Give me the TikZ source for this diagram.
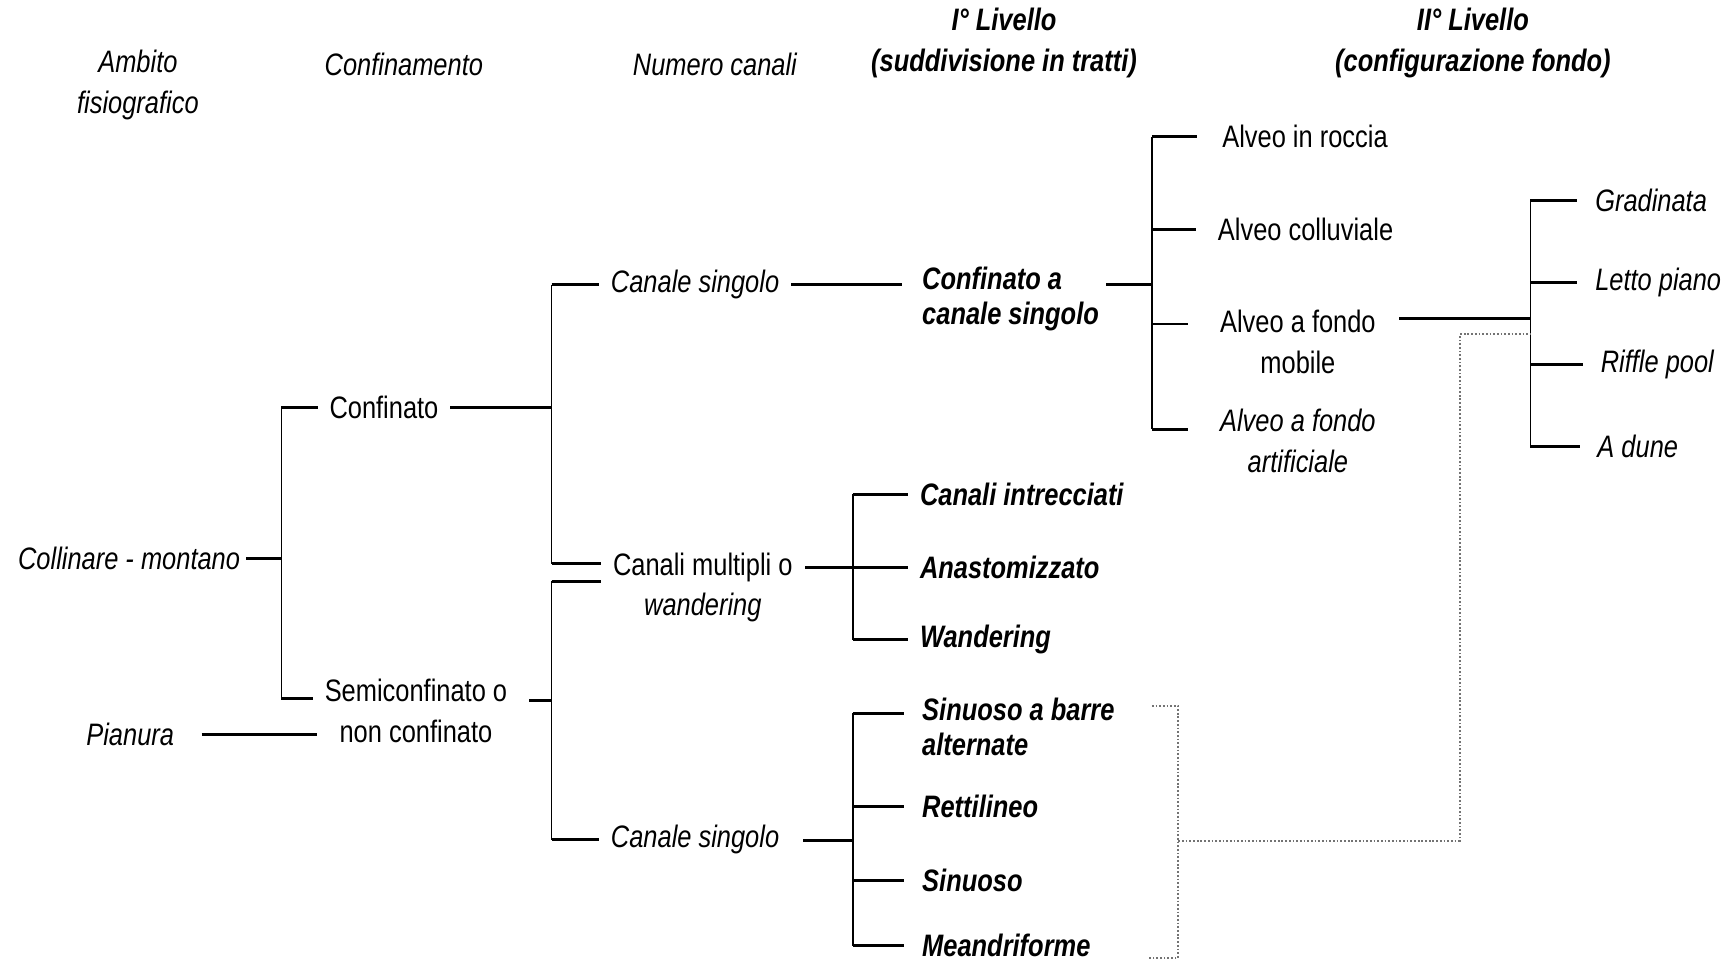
\documentclass[tikz,border=0pt]{standalone}
\usepackage{fontspec}
\setmainfont{Liberation Sans}[FakeStretch=0.82]

\tikzset{
  lbl/.style={inner sep=2pt, font=\fontsize{16}{21}\selectfont},
  itl/.style={lbl, font=\fontsize{16}{21}\selectfont\itshape},
  bit/.style={lbl, font=\fontsize{16}{18}\selectfont\bfseries\itshape},
  head/.style={lbl, align=center, font=\fontsize{16}{21}\selectfont\itshape},
  bhead/.style={font=\fontsize{16}{21}\selectfont\bfseries\itshape},
  tick/.style={line width=1.5pt, shorten >=4pt},
  stem/.style={line width=0.8pt},
  link/.style={black!55, densely dotted, line width=0.9pt}
}

\begin{document}
\begin{tikzpicture}[x=0.02cm, y=-0.02cm]
\useasboundingbox (0,0) rectangle (1568,874);

% Headers
\node[head] (hAmb) at (125,77) {Ambito\\fisiografico};
\node[head] (hConf) at (366,58) {Confinamento};
\node[head] (hNum) at (648,58) {Numero canali};
\node[head, bhead] (hLiv1) at (910,39) {I° Livello\\(suddivisione in tratti)};
\node[head, bhead] (hLiv2) at (1335,39) {II° Livello\\(configurazione fondo)};

% Ambito fisiografico
\node[itl] (cm) at (117,506) {Collinare - montano};
\node[itl] (pia) at (118,666) {Pianura};

% Confinamento
\node[lbl] (conf) at (348,369) {Confinato};
\node[lbl, align=center, anchor=north] (semi) at (377,612) {Semiconfinato o\\non confinato};
\coordinate (semiL) at ([yshift=-12pt]semi.north west);

\coordinate (b1) at (255,506);
\draw[tick, shorten >=1pt] (b1) -- (cm.east);
\draw[stem] (b1 |- conf.west) -- (b1 |- semiL);
\draw[tick] (b1 |- conf.west) -- (conf.west);
\draw[tick] (b1 |- semiL) -- (semiL);
\draw[tick, shorten <=12pt, shorten >=2pt] (pia.east) -- (pia.east -| semi.west);

% Numero canali
\node[itl] (cs1) at (630,258) {Canale singolo};
\node[lbl, align=center, anchor=north] (cmw) at (637,497) {Canali multipli o\\\textit{wandering}};
\node[itl] (cs2) at (630,761) {Canale singolo};
\coordinate (cmwA) at ([yshift=-8pt]cmw.north west);
\coordinate (cmwB) at ([yshift=-17pt]cmw.north west);

\coordinate (b2a) at (500,369);
\draw[tick] (b2a) -- (b2a -| conf.east);
\draw[stem] (b2a |- cs1.west) -- (b2a |- cmwA);
\draw[tick] (b2a |- cs1.west) -- (cs1.west);
\draw[tick] (b2a |- cmwA) -- (cmwA);

\coordinate (b2b) at (500,635);
\draw[tick, shorten >=9pt] (b2b) -- (b2b -| semi.east);
\draw[stem] (b2b |- cmwB) -- (b2b |- cs2.west);
\draw[tick] (b2b |- cmwB) -- (cmwB);
\draw[tick] (b2b |- cs2.west) -- (cs2.west);

% I livello - canali multipli
\node[bit, anchor=west] (ci) at (830,448) {Canali intrecciati};
\node[bit, anchor=west] (an) at (830,514) {Anastomizzato};
\node[bit, anchor=west] (wa) at (830,580) {Wandering};

\coordinate (b3a) at (773,514);
\draw[tick] (b3a) -- (b3a -| cmw.east);
\draw[stem] (b3a |- ci.west) -- (b3a |- wa.west);
\draw[tick] (b3a |- ci.west) -- (ci.west);
\draw[tick] (b3a |- an.west) -- (an.west);
\draw[tick] (b3a |- wa.west) -- (wa.west);

% I livello - canale singolo
\node[bit, align=left, anchor=north west] (sba) at (832,629) {Sinuoso a barre\\alternate};
\node[bit, anchor=west] (re) at (832,731) {Rettilineo};
\node[bit, anchor=west] (si) at (832,798) {Sinuoso};
\node[bit, anchor=west] (me) at (832,857) {Meandriforme};
\coordinate (sbaL) at ([yshift=-10pt]sba.north west);

\coordinate (b3b) at (773,762);
\draw[tick, shorten >=10pt] (b3b) -- (b3b -| cs2.east);
\draw[stem] (b3b |- sbaL) -- (b3b |- me.west);
\draw[tick, shorten >=7pt] (b3b |- sbaL) -- (sbaL);
\draw[tick, shorten >=7pt] (b3b |- re.west) -- (re.west);
\draw[tick, shorten >=7pt] (b3b |- si.west) -- (si.west);
\draw[tick, shorten >=7pt] (b3b |- me.west) -- (me.west);

% I livello - confinato
\node[bit, align=left, anchor=north west] (cacs) at (832,238) {Confinato a\\canale singolo};
\coordinate (cacsL) at ([yshift=-11.5pt]cacs.north west);
\draw[tick, shorten <=4pt, shorten >=8pt] (cs1.east) -- (cs1.east -| cacsL);

% II livello - tipi di alveo
\node[lbl, anchor=west] (ar) at (1104,124) {Alveo in roccia};
\node[lbl, anchor=west] (ac) at (1100,208) {Alveo colluviale};
\node[lbl, align=center, anchor=north west] (afm) at (1102,277) {Alveo a fondo\\mobile};
\node[itl, align=center, anchor=north west] (afa) at (1102,367) {Alveo a fondo\\artificiale};
\coordinate (afmL) at ([yshift=-9.5pt]afm.north west);
\coordinate (afaL) at ([yshift=-12.5pt]afa.north west);

\coordinate (b4) at (1044,258);
\draw[tick, shorten >=1.5pt] (b4) -- (b4 -| cacs.east);
\draw[stem] (b4 |- ar.west) -- (b4 |- afaL);
\draw[tick, shorten >=11pt] (b4 |- ar.west) -- (ar.west);
\draw[tick, shorten >=9pt] (b4 |- ac.west) -- (ac.west);
\draw[tick, shorten >=14.5pt] (b4 |- afmL) -- (afmL);
\draw[tick, shorten >=14.5pt] (b4 |- afaL) -- (afaL);

% Configurazione fondo
\node[itl, anchor=west] (gr) at (1442,182) {Gradinata};
\node[itl, anchor=west] (lp) at (1442,256) {Letto piano};
\node[itl, anchor=west] (rp) at (1447,330) {Riffle pool};
\node[itl, anchor=west] (ad) at (1444,405) {A dune};

\coordinate (b5) at (1387,289);
\draw[tick, shorten >=10pt] (b5) -- (b5 -| afm.east);
\draw[stem] (b5 |- gr.west) -- (b5 |- ad.west);
\draw[tick, shorten >=7pt] (b5 |- gr.west) -- (gr.west);
\draw[tick, shorten >=7pt] (b5 |- lp.west) -- (lp.west);
\draw[tick, shorten >=7pt] (b5 |- rp.west) -- (rp.west);
\draw[tick, shorten >=7pt] (b5 |- ad.west) -- (ad.west);

% Collegamento tratteggiato
\coordinate (dA) at (1044,640);
\coordinate (dB) at (1040,868);
\coordinate (dC) at (1068,762);
\coordinate (dD) at (1323,303);
\draw[link] (dA) -| (dC) |- (dB);
\draw[link] (dC) -| (dD) -- (dD -| b5);
\end{tikzpicture}
\end{document}
